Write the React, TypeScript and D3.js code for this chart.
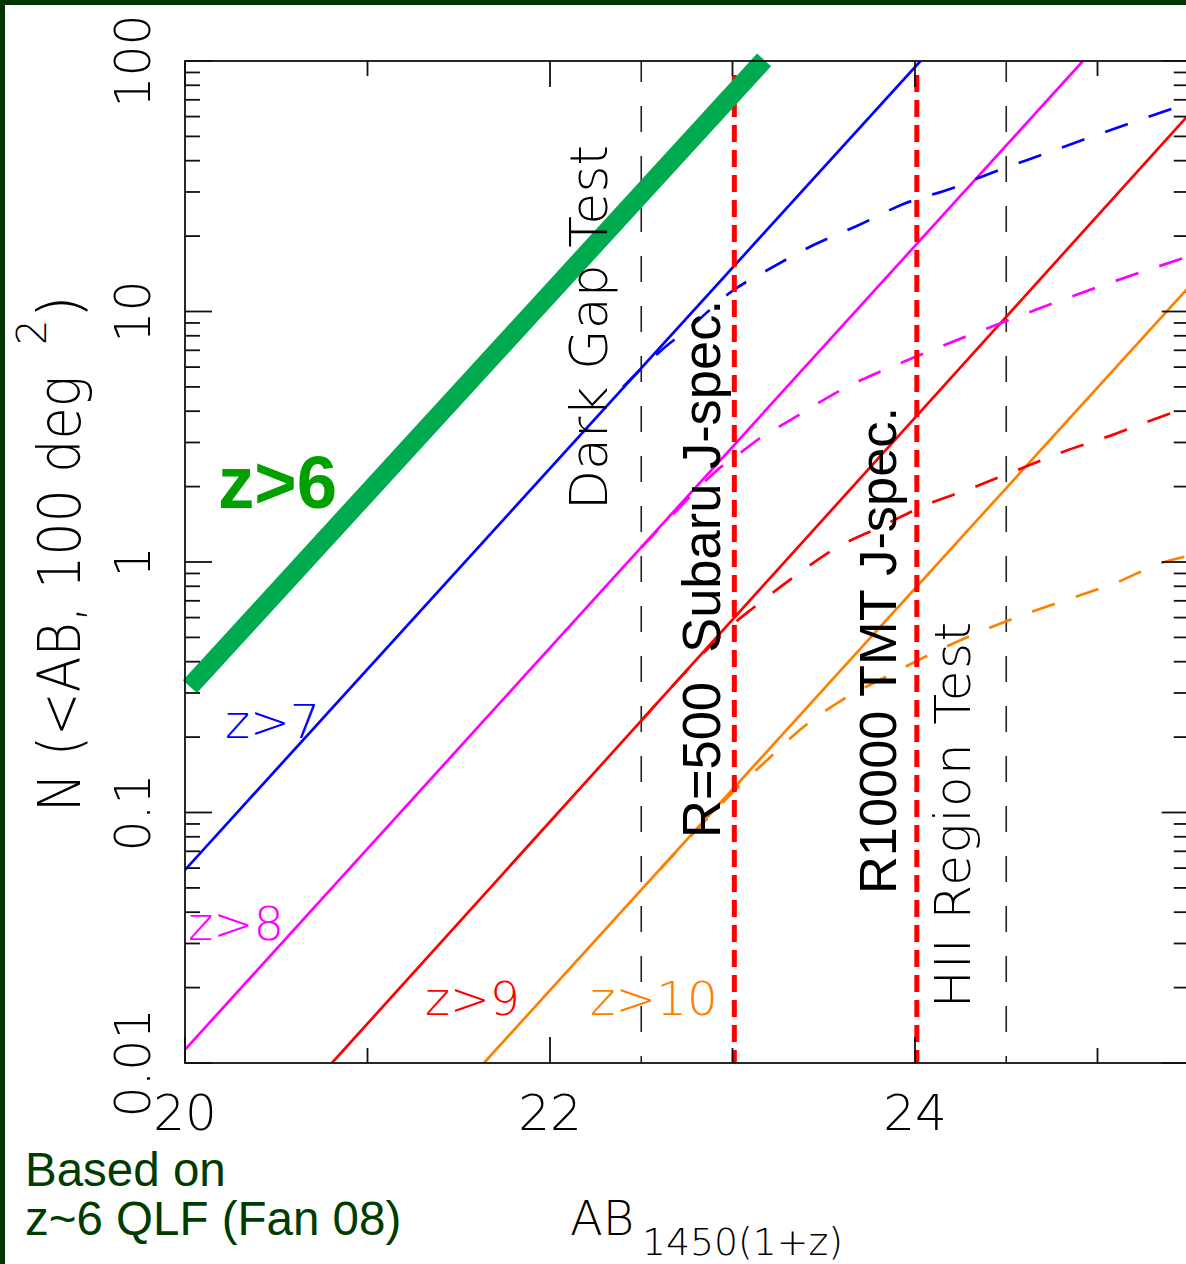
import React from "react";
import * as d3 from "d3";

// Canvas and plot frame
const WIDTH = 1186;
const HEIGHT = 1264;
const PLOT = { left: 185, top: 61, right: 1188.75, bottom: 1063 };

// Axes
const magDomain: [number, number] = [20, 25.5];
const countDomain: [number, number] = [0.01, 100];
const magTicks = [20, 21, 22, 23, 24, 25];
const magLabelled = [20, 22, 24];
const countLabelled = [0.01, 0.1, 1, 10, 100];
const countLabels = ["0.01", "0.1", "1", "10", "100"];

// Cumulative counts N(<AB) per 100 deg^2 : [AB magnitude, N]
const z6Solid: [number, number][] = [[20.027, 0.318], [23.173, 101]];
const z7Solid: [number, number][] = [[20, 0.059], [24.03, 100]];
const z8Solid: [number, number][] = [[20, 0.0113], [24.92, 100]];
const z9Solid: [number, number][] = [[20.805, 0.01], [25.5, 61]];
const z10Solid: [number, number][] = [[21.638, 0.01], [25.5, 12.5]];

const z7Dashed: [number, number][] = [
  [22.4, 5.0], [22.6, 6.9], [22.78, 8.8], [22.98, 11.8], [23.21, 14.9], [23.45, 18.5],
  [23.69, 22.1], [23.94, 26.9], [24.2, 31.0], [24.46, 36.7], [24.71, 42.6],
  [24.97, 49.9], [25.22, 57.8], [25.5, 68],
];
const z8Dashed: [number, number][] = [
  [22.5, 1.14], [22.7, 1.62], [22.95, 2.44], [23.05, 2.75], [23.16, 3.16], [23.27, 3.52],
  [23.63, 5.01], [24.0, 6.58], [24.5, 9.16], [25.0, 12.5], [25.5, 16.6],
];
const z9Dashed: [number, number][] = [
  [22.5, 0.232], [22.8, 0.403], [23.0, 0.562], [23.12, 0.661], [23.35, 0.887],
  [23.57, 1.14], [23.81, 1.38], [24.06, 1.69], [24.31, 1.97], [24.56, 2.33],
  [24.81, 2.75], [25.08, 3.21], [25.33, 3.76], [25.5, 4.15],
];
const z10Dashed: [number, number][] = [
  [22.6, 0.059], [22.9, 0.101], [23.0, 0.12], [23.19, 0.162], [23.39, 0.22],
  [23.6, 0.281], [23.86, 0.354], [24.1, 0.434], [24.34, 0.521], [24.59, 0.614],
  [24.86, 0.718], [25.11, 0.832], [25.35, 0.991], [25.5, 1.06],
];

// Test limits (black dashed) and spectroscopic limits (red dashed)
const testLimits = [22.5, 24.5];
const specLimits = [23.01, 24.01];
const specLimitTop = 88;

const seriesNames = ["z>7", "z>8", "z>9", "z>10"];
const seriesColors = ["#0000ff", "#ff00ff", "#ff0000", "#ff8000"];

const idlFont = "'DejaVu Sans', sans-serif";
const arialFont = "'Liberation Sans', Arial, sans-serif";

export default function App() {
  const x = d3.scaleLinear().domain(magDomain).range([PLOT.left, PLOT.right]);
  const y = d3.scaleLog().domain(countDomain).range([PLOT.bottom, PLOT.top]);
  const line = d3
    .line<[number, number]>()
    .x((d) => x(d[0]))
    .y((d) => y(d[1]))
    .curve(d3.curveMonotoneX);

  const solids = [z7Solid, z8Solid, z9Solid, z10Solid];
  const dashed = [z7Dashed, z8Dashed, z9Dashed, z10Dashed];

  const countTicks = y.ticks();
  const isDecade = (v: number) => Math.abs(Math.log10(v) - Math.round(Math.log10(v))) < 1e-6;

  const axisColor = "#111";
  const plotW = PLOT.right - PLOT.left;
  const plotH = PLOT.bottom - PLOT.top;

  return (
    <svg
      width={WIDTH}
      height={HEIGHT}
      style={{ position: "absolute", left: 0, top: 0, display: "block" }}
    >
      <defs>
        <clipPath id="plot-clip">
          <rect x={PLOT.left} y={PLOT.top} width={plotW} height={plotH} />
        </clipPath>
      </defs>

      {/* frame */}
      <rect x={0} y={0} width={WIDTH} height={HEIGHT} fill="#003300" />
      <rect x={5} y={5} width={WIDTH} height={HEIGHT} fill="#ffffff" />

      {/* test limit lines */}
      {testLimits.map((m) => (
        <line
          key={`t${m}`}
          x1={x(m)}
          x2={x(m)}
          y1={PLOT.top}
          y2={PLOT.bottom}
          stroke="#222"
          strokeWidth={1.6}
          strokeDasharray="26 24"
          strokeDashoffset={5}
        />
      ))}

      {/* counts */}
      <g clipPath="url(#plot-clip)" fill="none">
        {solids.map((s, i) => (
          <path key={`s${i}`} d={line(s) || ""} stroke={seriesColors[i]} strokeWidth={2.7} />
        ))}
        {dashed.map((s, i) => (
          <path
            key={`d${i}`}
            d={line(s) || ""}
            stroke={seriesColors[i]}
            strokeWidth={2.7}
            strokeDasharray="24 22"
          />
        ))}
      </g>

      {/* spectroscopic limits */}
      {specLimits.map((m) => (
        <line
          key={`r${m}`}
          x1={x(m)}
          x2={x(m)}
          y1={y(specLimitTop)}
          y2={PLOT.bottom}
          stroke="#ff0000"
          strokeWidth={5}
          strokeDasharray="17 8"
        />
      ))}

      {/* z>6 */}
      <path
        d={line(z6Solid) || ""}
        stroke="#00ab50"
        strokeWidth={19}
        fill="none"
        strokeLinecap="butt"
      />

      {/* axes box */}
      <rect
        x={PLOT.left}
        y={PLOT.top}
        width={plotW}
        height={plotH}
        fill="none"
        stroke={axisColor}
        strokeWidth={1.8}
      />
      {magTicks.map((m) => {
        const len = magLabelled.includes(m) ? 26 : 15;
        return (
          <g key={`mt${m}`} stroke={axisColor} strokeWidth={1.8}>
            <line x1={x(m)} x2={x(m)} y1={PLOT.bottom} y2={PLOT.bottom - len} />
            <line x1={x(m)} x2={x(m)} y1={PLOT.top} y2={PLOT.top + len} />
          </g>
        );
      })}
      {countTicks.map((v) => {
        const len = isDecade(v) ? 27 : 15;
        return (
          <g key={`ct${v}`} stroke={axisColor} strokeWidth={1.8}>
            <line x1={PLOT.left} x2={PLOT.left + len} y1={y(v)} y2={y(v)} />
            <line x1={PLOT.right} x2={PLOT.right - len} y1={y(v)} y2={y(v)} />
          </g>
        );
      })}

      {/* tick labels */}
      <g fontFamily={idlFont} fontWeight={200} fill="#000">
        {magLabelled.map((m) => (
          <text key={`ml${m}`} x={x(m)} y={1130} fontSize={50} textAnchor="middle">
            {String(m)}
          </text>
        ))}
        {countLabelled.map((v, i) => (
          <text
            key={`cl${v}`}
            transform={`translate(150,${y(v)}) rotate(-90)`}
            fontSize={49}
            textAnchor="middle"
          >
            {countLabels[i]}
          </text>
        ))}
      </g>

      {/* axis titles */}
      <g fontFamily={idlFont} fontWeight={200} fill="#000">
        <text transform="translate(80,812) rotate(-90)" fontSize={58} textLength={436} lengthAdjust="spacingAndGlyphs">
          N (&lt;AB, 100 deg
        </text>
        <text transform="translate(46,345) rotate(-90)" fontSize={40}>
          2
        </text>
        <text transform="translate(80,318) rotate(-90)" fontSize={58}>
          )
        </text>
        <text x={570} y={1235} fontSize={48}>
          AB
        </text>
        <text x={642} y={1255} fontSize={37} textLength={201} lengthAdjust="spacingAndGlyphs">
          1450(1+z)
        </text>
      </g>

      {/* annotations */}
      <g fontFamily={idlFont} fontWeight={200} fill="#000">
        <text transform="translate(607,510) rotate(-90)" fontSize={52} textLength={365} lengthAdjust="spacing">
          Dark Gap Test
        </text>
        <text transform="translate(970,1008) rotate(-90)" fontSize={50} textLength={386} lengthAdjust="spacing">
          HII Region Test
        </text>
      </g>
      <g fontFamily={arialFont} fill="#000">
        <text
          transform="translate(720,838) rotate(-90)"
          fontSize={53}
          textLength={538}
          lengthAdjust="spacingAndGlyphs"
          xmlSpace="preserve"
        >
          {"R=500  Subaru J-spec."}
        </text>
        <text transform="translate(896,894) rotate(-90)" fontSize={52} textLength={487} lengthAdjust="spacingAndGlyphs">
          R10000 TMT J-spec.
        </text>
      </g>

      {/* series labels */}
      <g fontFamily={idlFont} fontWeight={200}>
        <text x={225} y={738} fontSize={46} fill={seriesColors[0]} textLength={95} lengthAdjust="spacingAndGlyphs">
          {seriesNames[0]}
        </text>
        <text x={188} y={940} fontSize={46} fill={seriesColors[1]} textLength={96} lengthAdjust="spacingAndGlyphs">
          {seriesNames[1]}
        </text>
        <text x={425} y={1015} fontSize={46} fill={seriesColors[2]} textLength={95} lengthAdjust="spacingAndGlyphs">
          {seriesNames[2]}
        </text>
        <text x={590} y={1015} fontSize={46} fill={seriesColors[3]} textLength={128} lengthAdjust="spacingAndGlyphs">
          {seriesNames[3]}
        </text>
      </g>
      <text
        x={218}
        y={508}
        fontFamily={arialFont}
        fontWeight={700}
        fontSize={74}
        fill="#00a000"
        textLength={119}
        lengthAdjust="spacingAndGlyphs"
      >
        z&gt;6
      </text>

      {/* source note */}
      <g fontFamily={arialFont} fontSize={47.5} fill="#003c00">
        <text x={25} y={1186}>Based on</text>
        <text x={25} y={1235}>z~6 QLF (Fan 08)</text>
      </g>
    </svg>
  );
}
